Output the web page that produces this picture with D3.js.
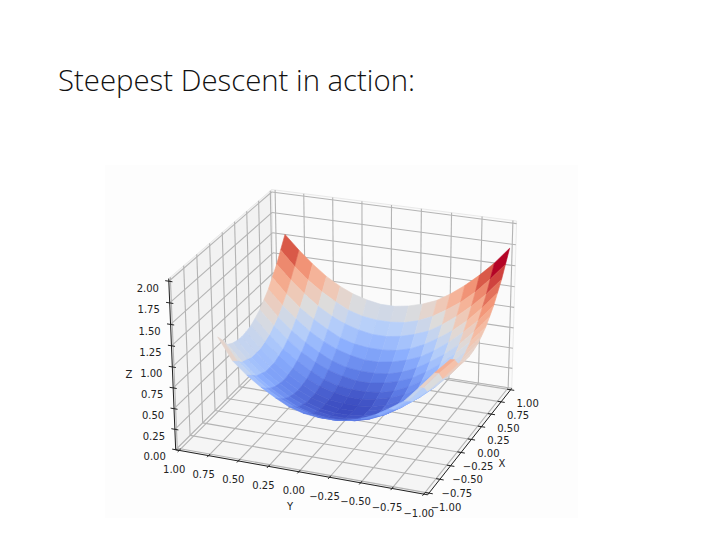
<!DOCTYPE html>
<html><head><meta charset="utf-8">
<style>html,body{margin:0;padding:0;background:#fff}svg{display:block}text{fill:#222}</style>
<script src="https://cdn.jsdelivr.net/npm/d3@7"></script></head><body>
<svg id="c" width="720" height="540"></svg>
<script>
const title = "Steepest Descent in action:";
const xValues = [-0.40,-0.30,-0.21,-0.11,-0.02,0.08,0.17,0.27,0.36,0.46,0.55,0.65,0.74,0.84,0.93,1.03];
const yValues = [0.92,0.80,0.68,0.56,0.44,0.33,0.21,0.09,-0.03,-0.15,-0.27,-0.39,-0.50,-0.62,-0.74,-0.86,-0.98];
const zValues = [
[1.02,0.76,0.61,0.49,0.39,0.31,0.26,0.24,0.24,0.26,0.31,0.39,0.49,0.61,0.80,1.00,1.18],
[0.92,0.70,0.55,0.42,0.32,0.25,0.20,0.17,0.17,0.20,0.25,0.32,0.42,0.55,0.74,0.94,1.12],
[0.82,0.64,0.49,0.37,0.27,0.19,0.14,0.12,0.12,0.14,0.19,0.27,0.37,0.49,0.64,0.82,1.02],
[0.78,0.61,0.46,0.33,0.23,0.16,0.11,0.08,0.08,0.11,0.16,0.23,0.33,0.46,0.61,0.78,0.98],
[0.76,0.58,0.43,0.31,0.21,0.13,0.08,0.06,0.06,0.08,0.13,0.21,0.31,0.43,0.58,0.76,0.96],
[0.75,0.58,0.43,0.30,0.20,0.13,0.08,0.05,0.05,0.08,0.13,0.20,0.30,0.43,0.58,0.75,0.95],
[0.76,0.58,0.43,0.31,0.21,0.13,0.08,0.06,0.06,0.08,0.13,0.21,0.31,0.43,0.58,0.76,0.96],
[0.78,0.61,0.46,0.33,0.23,0.16,0.11,0.08,0.08,0.11,0.16,0.23,0.33,0.46,0.61,0.78,0.98],
[0.82,0.64,0.49,0.37,0.27,0.19,0.14,0.12,0.12,0.14,0.19,0.27,0.37,0.49,0.64,0.82,1.02],
[0.87,0.70,0.55,0.42,0.32,0.25,0.20,0.17,0.17,0.20,0.25,0.32,0.42,0.55,0.70,0.87,1.07],
[0.94,0.76,0.61,0.49,0.39,0.31,0.26,0.24,0.24,0.26,0.31,0.39,0.49,0.61,0.76,0.94,1.14],
[1.02,0.85,0.70,0.57,0.47,0.40,0.35,0.32,0.32,0.35,0.40,0.47,0.57,0.70,0.85,1.02,1.22],
[1.12,0.94,0.79,0.67,0.57,0.49,0.44,0.42,0.42,0.44,0.49,0.57,0.67,0.79,0.94,1.12,1.32],
[1.23,1.06,0.91,0.78,0.68,0.61,0.56,0.53,0.53,0.56,0.61,0.68,0.78,0.91,1.06,1.23,1.43],
[1.36,1.18,1.03,0.91,0.81,0.73,0.68,0.66,0.66,0.68,0.73,0.81,0.91,1.03,1.18,1.36,1.56],
[1.50,1.33,1.18,1.05,0.95,0.88,0.83,0.80,0.80,0.83,0.88,0.95,1.05,1.18,1.33,1.50,1.70]];
const xTicks = [-1,-0.75,-0.5,-0.25,0,0.25,0.5,0.75,1];
const yTicks = [-1,-0.75,-0.5,-0.25,0,0.25,0.5,0.75,1];
const zTicks = [0,0.25,0.5,0.75,1,1.25,1.5,1.75,2];
const coolwarmStops = ["#3b4cc0","#6282ea","#8db0fe","#b8d0f9","#dddcdc","#f5c1a9","#f49a7b","#d95847","#b40426"];

// axis limits mapped to a unit cube
const lim = 1.03, zTop = 2.03;
const xS = d3.scaleLinear().domain([-lim,lim]).range([0,1]);
const yS = d3.scaleLinear().domain([-lim,lim]).range([0,1]);
const zS = d3.scaleLinear().domain([0,zTop]).range([0,1]);

// camera calibration: cube corners and where they appear on the page
const cal = [[0,1,0,177,453],[0,0,0,427,493],[1,0,0,512,391],[1,1,0,274,347],[0,1,1,168,277],[1,1,1,272,192],[1,0,1,517,220]];
function fitCamera(pts){
  const rows=[],rhs=[];
  pts.forEach(([X,Y,Z,u,v])=>{
    rows.push([X,Y,Z,1,0,0,0,0,-u*X,-u*Y,-u*Z]); rhs.push(u);
    rows.push([0,0,0,0,X,Y,Z,1,-v*X,-v*Y,-v*Z]); rhs.push(v);
  });
  const n=11, A=d3.range(n).map(i=>d3.range(n+1).map(j=>0));
  rows.forEach((r,k)=>{for(let i=0;i<n;i++){for(let j=0;j<n;j++)A[i][j]+=r[i]*r[j];A[i][n]+=r[i]*rhs[k];}});
  for(let c=0;c<n;c++){
    let p=c;for(let r=c+1;r<n;r++)if(Math.abs(A[r][c])>Math.abs(A[p][c]))p=r;
    [A[c],A[p]]=[A[p],A[c]];
    for(let r=0;r<n;r++){if(r===c)continue;const f=A[r][c]/A[c][c];for(let j=c;j<=n;j++)A[r][j]-=f*A[c][j];}
  }
  return A.map((r,i)=>r[n]/r[i]);
}
const m = fitCamera(cal);
const depth=(x,y,z)=>m[8]*xS(x)+m[9]*yS(y)+m[10]*zS(z)+1;
const proj=(x,y,z)=>{const X=xS(x),Y=yS(y),Z=zS(z),w=depth(x,y,z);
  return [(m[0]*X+m[1]*Y+m[2]*Z+m[3])/w,(m[4]*X+m[5]*Y+m[6]*Z+m[7])/w];};
const path=pts=>"M"+pts.map(p=>p.map(v=>v.toFixed(2)).join(",")).join("L")+"Z";
const seg=(a,b)=>"M"+a.map(v=>v.toFixed(2)).join(",")+"L"+b.map(v=>v.toFixed(2)).join(",");

const svg=d3.select("#c");
svg.append("rect").attr("x",105).attr("y",165).attr("width",473).attr("height",353).attr("fill","#fdfdfd");

// panes
const panes=[
 {fill:"#f2f2f2",pts:[[-lim,lim,0],[lim,lim,0],[lim,lim,zTop],[-lim,lim,zTop]]},
 {fill:"#fafafa",pts:[[lim,lim,0],[lim,-lim,0],[lim,-lim,zTop],[lim,lim,zTop]]},
 {fill:"#f5f5f5",pts:[[-lim,lim,0],[-lim,-lim,0],[lim,-lim,0],[lim,lim,0]]}];
svg.append("g").selectAll("path").data(panes).join("path")
  .attr("d",d=>path(d.pts.map(p=>proj(...p)))).attr("fill",d=>d.fill).attr("stroke","#eaeaea").attr("stroke-width",1);

// grid lines
const gridSegs=[];
xTicks.forEach(t=>{gridSegs.push([[t,-lim,0],[t,lim,0]]);gridSegs.push([[t,lim,0],[t,lim,zTop]]);});
yTicks.forEach(t=>{gridSegs.push([[-lim,t,0],[lim,t,0]]);gridSegs.push([[lim,t,0],[lim,t,zTop]]);});
zTicks.forEach(t=>{gridSegs.push([[-lim,lim,t],[lim,lim,t]]);gridSegs.push([[lim,lim,t],[lim,-lim,t]]);});
svg.append("g").selectAll("path").data(gridSegs).join("path")
  .attr("d",d=>seg(proj(...d[0]),proj(...d[1]))).attr("stroke","#b4b4b4").attr("stroke-width",1.1).attr("fill","none");

// surface
const cells=[];
for(let i=0;i<xValues.length-1;i++)for(let j=0;j<yValues.length-1;j++){
  const c=[[i,j],[i+1,j],[i+1,j+1],[i,j+1]].map(([a,b])=>[xValues[a],yValues[b],zValues[a][b]]);
  cells.push({c,mz:d3.mean(c,p=>p[2]),d:d3.mean(c,p=>depth(...p))});
}
cells.sort((a,b)=>b.d-a.d);
const colorT=d3.scaleLinear().domain(d3.extent(cells,d=>d.mz)).range([0,1]);
const cw=d3.scaleLinear().domain(d3.range(9).map(i=>i/8)).range(coolwarmStops);
svg.append("g").selectAll("path").data(cells).join("path")
  .attr("d",d=>path(d.c.map(p=>proj(...p))))
  .attr("fill",d=>cw(colorT(d.mz))).attr("stroke",d=>cw(colorT(d.mz))).attr("stroke-width",0.6);

// axis lines and ticks
const ax=svg.append("g").attr("stroke","#222").attr("stroke-width",1).attr("fill","none");
[[[-lim,lim,0],[-lim,-lim,0]],[[-lim,-lim,0],[lim,-lim,0]],[[-lim,lim,0],[-lim,lim,zTop]]].forEach(s=>ax.append("path").attr("d",seg(proj(...s[0]),proj(...s[1]))));
const tk=0.03;
xTicks.forEach(t=>ax.append("path").attr("d",seg(proj(t,-lim-tk,0),proj(t,-lim+tk,0))));
yTicks.forEach(t=>ax.append("path").attr("d",seg(proj(-lim-tk,t,0),proj(-lim+tk,t,0))));
zTicks.forEach(t=>ax.append("path").attr("d",seg(proj(-lim,lim+tk,t),proj(-lim,lim-tk,t))));

// tick labels
const fmt=v=>d3.format(".2f")(v).replace("-","\u2212");
const lab=svg.append("g").attr("font-family","DejaVu Sans").attr("font-size",10).attr("text-anchor","middle").attr("dominant-baseline","central");
xTicks.forEach(t=>{const p=proj(t,-lim,0);lab.append("text").attr("x",p[0]+17).attr("y",p[1]+14).text(fmt(t));});
yTicks.forEach(t=>{const p=proj(-lim,t,0);lab.append("text").attr("x",p[0]-5).attr("y",p[1]+19).text(fmt(t));});
zTicks.forEach(t=>{const p=proj(-lim,lim,t);lab.append("text").attr("x",p[0]-21).attr("y",p[1]+7).text(fmt(t));});
lab.append("text").attr("x",502).attr("y",463).text("X");
lab.append("text").attr("x",290).attr("y",506).text("Y");
lab.append("text").attr("x",129).attr("y",374).text("Z");

svg.append("text").attr("x",58).attr("y",91).attr("font-family","Open Sans").attr("font-weight",300).attr("font-size",29)
  .attr("textLength",357).attr("lengthAdjust","spacingAndGlyphs").style("fill","#111").text(title);
</script></body></html>
